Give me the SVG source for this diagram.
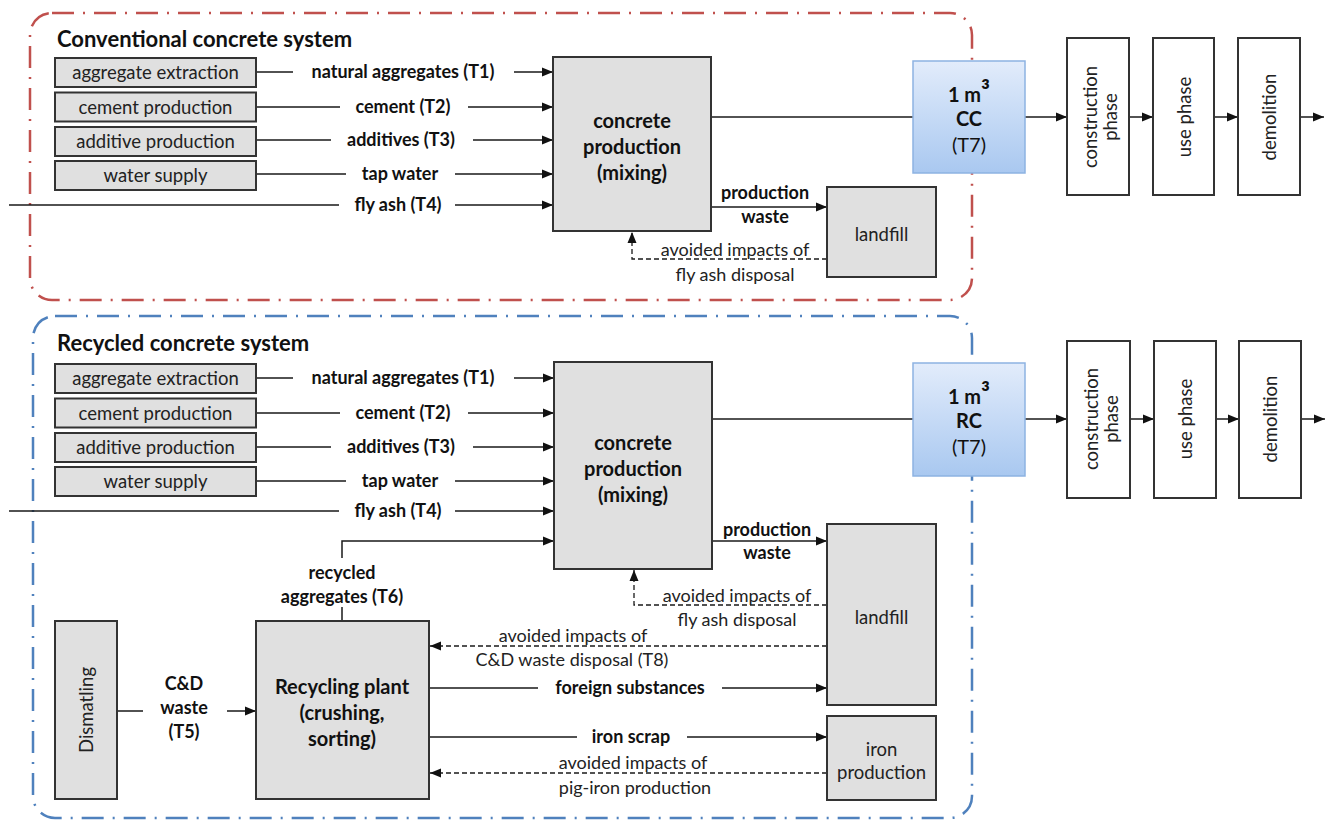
<svg xmlns="http://www.w3.org/2000/svg" width="1330" height="822" viewBox="0 0 1330 822">
<defs>
<marker id="arr" markerWidth="11" markerHeight="10" refX="11" refY="5" orient="auto" markerUnits="userSpaceOnUse"><path d="M0,0.5 L11,5 L0,9.5 Z" fill="#111"/></marker>
<linearGradient id="blueg" x1="0" y1="0" x2="0" y2="1"><stop offset="0" stop-color="#e2ecfb"/><stop offset="1" stop-color="#a9c8f0"/></linearGradient>
<style>
.fr{fill:none;stroke:#c0504d;stroke-width:2.5;stroke-dasharray:22 9 2 9}
.fb{fill:none;stroke:#4f81bd;stroke-width:2.5;stroke-dasharray:22 9 2 9}
.box{fill:#e0e0e0;stroke:#333;stroke-width:2}
.wbox{fill:#fff;stroke:#333;stroke-width:2}
.bbox{fill:url(#blueg);stroke:#8db3e2;stroke-width:1.5}
.ln{fill:none;stroke:#1a1a1a;stroke-width:1.5}
.da{fill:none;stroke:#1a1a1a;stroke-width:1.3;stroke-dasharray:5 3}
text{font-family:Lato,"Liberation Sans",sans-serif;fill:#111;text-anchor:middle}
.t{font-size:22px;font-weight:bold;text-anchor:start}
.r{font-size:18.5px;fill:#222}
.b{font-size:18px;font-weight:bold}
.bb{font-size:20px;font-weight:bold}
.bn{font-size:20px}
.av{font-size:18px;fill:#222}
.sup{font-size:27px}
</style>
</defs>

<g id="frame-conventional"><rect class="fr" x="30" y="13" width="942" height="287" rx="22"/>
<text class="t" x="57" y="47">Conventional concrete system</text></g>
<g id="frame-recycled"><rect class="fb" x="33" y="316" width="939" height="502" rx="22"/>
<text class="t" x="57" y="351">Recycled concrete system</text></g>

<g id="connectors">
<path class="ln" d="M256 72H293M514 72H553" marker-end="url(#arr)"/>
<path class="ln" d="M256 107H340M468 107H553" marker-end="url(#arr)"/>
<path class="ln" d="M256 140H331M473 140H553" marker-end="url(#arr)"/>
<path class="ln" d="M256 174H346M455 174H553" marker-end="url(#arr)"/>
<path class="ln" d="M9 205H339M455 205H553" marker-end="url(#arr)"/>
<path class="ln" d="M711 117H913"/>
<path class="ln" d="M1025 117H1067" marker-end="url(#arr)"/>
<path class="ln" d="M1129 117H1153" marker-end="url(#arr)"/>
<path class="ln" d="M1214 117H1238" marker-end="url(#arr)"/>
<path class="ln" d="M1300 117H1324" marker-end="url(#arr)"/>
<path class="ln" d="M711 207H827" marker-end="url(#arr)"/>
<path class="da" d="M827 259H632V232" marker-end="url(#arr)"/>
<path class="ln" d="M256 378H293M514 378H554" marker-end="url(#arr)"/>
<path class="ln" d="M256 413H340M468 413H554" marker-end="url(#arr)"/>
<path class="ln" d="M256 447H331M473 447H554" marker-end="url(#arr)"/>
<path class="ln" d="M256 481H346M455 481H554" marker-end="url(#arr)"/>
<path class="ln" d="M9 511H339M455 511H554" marker-end="url(#arr)"/>
<path class="ln" d="M342 621V607M342 558V541H554" marker-end="url(#arr)"/>
<path class="ln" d="M712 419H913"/>
<path class="ln" d="M1025 419H1067" marker-end="url(#arr)"/>
<path class="ln" d="M1130 419H1154" marker-end="url(#arr)"/>
<path class="ln" d="M1216 419H1239" marker-end="url(#arr)"/>
<path class="ln" d="M1301 419H1325" marker-end="url(#arr)"/>
<path class="ln" d="M712 541H827" marker-end="url(#arr)"/>
<path class="da" d="M827 605H634V570" marker-end="url(#arr)"/>
<path class="da" d="M827 646H430" marker-end="url(#arr)"/>
<path class="ln" d="M429 688H538M722 688H827" marker-end="url(#arr)"/>
<path class="ln" d="M429 737H577M687 737H827" marker-end="url(#arr)"/>
<path class="da" d="M827 773H430" marker-end="url(#arr)"/>
<path class="ln" d="M117 711H143M227 711H256" marker-end="url(#arr)"/>
</g>

<g id="connector-labels">
<text class="b" x="403" y="78">natural aggregates (T1)</text>
<text class="b" x="403" y="113">cement (T2)</text>
<text class="b" x="401" y="146">additives (T3)</text>
<text class="b" x="400" y="180">tap water</text>
<text class="b" x="398" y="211">fly ash (T4)</text>
<text class="b" x="765" y="199">production</text>
<text class="b" x="765" y="223">waste</text>
<text class="av" x="735" y="256">avoided impacts of</text>
<text class="av" x="735" y="281">fly ash disposal</text>

<text class="b" x="403" y="384">natural aggregates (T1)</text>
<text class="b" x="403" y="419">cement (T2)</text>
<text class="b" x="401" y="453">additives (T3)</text>
<text class="b" x="400" y="487">tap water</text>
<text class="b" x="398" y="517">fly ash (T4)</text>
<text class="b" x="342" y="579">recycled</text>
<text class="b" x="342" y="603">aggregates (T6)</text>
<text class="b" x="767" y="536">production</text>
<text class="b" x="767" y="559">waste</text>
<text class="av" x="737" y="602">avoided impacts of</text>
<text class="av" x="737" y="626">fly ash disposal</text>
<text class="av" x="573" y="642">avoided impacts of</text>
<text class="av" x="572" y="666">C&amp;D waste disposal (T8)</text>
<text class="b" x="630" y="694">foreign substances</text>
<text class="b" x="631" y="743">iron scrap</text>
<text class="av" x="633" y="769">avoided impacts of</text>
<text class="av" x="635" y="794">pig-iron production</text>
<text class="b" x="184" y="690">C&amp;D</text>
<text class="b" x="184" y="714">waste</text>
<text class="b" x="184" y="738">(T5)</text>
</g>

<g id="cc-aggregate-extraction"><rect class="box" x="55" y="58" width="201" height="29"/><text class="r" x="155.5" y="79">aggregate extraction</text></g>
<g id="cc-cement-production"><rect class="box" x="55" y="92.5" width="201" height="29"/><text class="r" x="155.5" y="113.5">cement production</text></g>
<g id="cc-additive-production"><rect class="box" x="55" y="127" width="201" height="29"/><text class="r" x="155.5" y="148">additive production</text></g>
<g id="cc-water-supply"><rect class="box" x="55" y="161" width="201" height="29"/><text class="r" x="155.5" y="182">water supply</text></g>
<g id="cc-concrete-production"><rect class="box" x="553" y="57" width="158" height="174"/>
<text class="bb" x="632" y="128">concrete</text><text class="bb" x="632" y="154">production</text><text class="bb" x="632" y="180">(mixing)</text></g>
<g id="cc-product"><rect class="bbox" x="913" y="61" width="112" height="112"/>
<text class="bb" x="969" y="102">1 m<tspan class="sup">³</tspan></text><text class="bb" x="969" y="126">CC</text><text class="bn" x="969" y="152">(T7)</text></g>
<g id="cc-landfill"><rect class="box" x="827" y="187" width="109" height="90"/><text class="r" x="881.5" y="241">landfill</text></g>
<g id="cc-construction"><rect class="wbox" x="1067" y="38" width="62" height="157"/>
<g transform="translate(1098 117) rotate(-90)"><text class="r" x="0" y="-1">construction</text><text class="r" x="0" y="19">phase</text></g></g>
<g id="cc-use"><rect class="wbox" x="1153" y="38" width="61" height="157"/>
<g transform="translate(1183.5 117) rotate(-90)"><text class="r" x="0" y="7">use phase</text></g></g>
<g id="cc-demolition"><rect class="wbox" x="1238" y="38" width="62" height="157"/>
<g transform="translate(1269 117) rotate(-90)"><text class="r" x="0" y="7">demolition</text></g></g>

<g id="rc-aggregate-extraction"><rect class="box" x="55" y="364" width="201" height="29"/><text class="r" x="155.5" y="385">aggregate extraction</text></g>
<g id="rc-cement-production"><rect class="box" x="55" y="398.5" width="201" height="29"/><text class="r" x="155.5" y="419.5">cement production</text></g>
<g id="rc-additive-production"><rect class="box" x="55" y="433" width="201" height="29"/><text class="r" x="155.5" y="454">additive production</text></g>
<g id="rc-water-supply"><rect class="box" x="55" y="467" width="201" height="29"/><text class="r" x="155.5" y="488">water supply</text></g>
<g id="rc-concrete-production"><rect class="box" x="554" y="362" width="158" height="207"/>
<text class="bb" x="633" y="450">concrete</text><text class="bb" x="633" y="476">production</text><text class="bb" x="633" y="502">(mixing)</text></g>
<g id="rc-product"><rect class="bbox" x="913" y="363" width="112" height="113"/>
<text class="bb" x="969" y="404">1 m<tspan class="sup">³</tspan></text><text class="bb" x="969" y="428">RC</text><text class="bn" x="969" y="454">(T7)</text></g>
<g id="rc-landfill"><rect class="box" x="827" y="524" width="109" height="181"/><text class="r" x="881.5" y="624">landfill</text></g>
<g id="rc-iron-production"><rect class="box" x="827" y="716" width="109" height="84"/><text class="r" x="881.5" y="756">iron</text><text class="r" x="881.5" y="779">production</text></g>
<g id="rc-recycling-plant"><rect class="box" x="256" y="621" width="173" height="178"/>
<text class="bb" x="342" y="694">Recycling plant</text><text class="bb" x="342" y="720">(crushing,</text><text class="bb" x="342" y="746">sorting)</text></g>
<g id="rc-dismatling"><rect class="box" x="55" y="621" width="62" height="178"/>
<g transform="translate(86 710) rotate(-90)"><text class="r" x="0" y="7">Dismatling</text></g></g>
<g id="rc-construction"><rect class="wbox" x="1067" y="341" width="63" height="157"/>
<g transform="translate(1098.5 419) rotate(-90)"><text class="r" x="0" y="-1">construction</text><text class="r" x="0" y="19">phase</text></g></g>
<g id="rc-use"><rect class="wbox" x="1154" y="341" width="62" height="157"/>
<g transform="translate(1185 419) rotate(-90)"><text class="r" x="0" y="7">use phase</text></g></g>
<g id="rc-demolition"><rect class="wbox" x="1239" y="341" width="62" height="157"/>
<g transform="translate(1270 419) rotate(-90)"><text class="r" x="0" y="7">demolition</text></g></g>
</svg>
